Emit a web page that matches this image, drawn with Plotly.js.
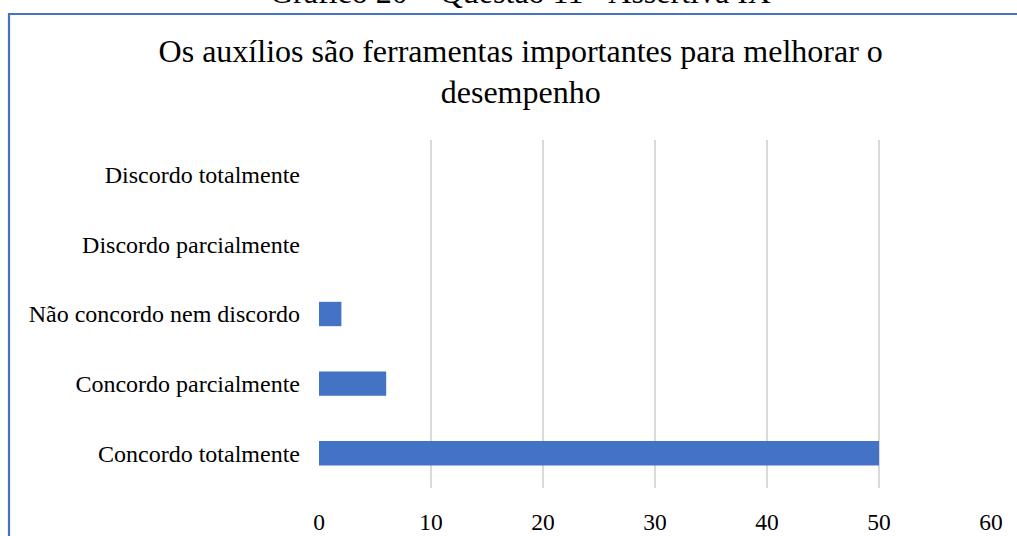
<!DOCTYPE html>
<html>
<head>
<meta charset="utf-8">
<script src="https://cdn.plot.ly/plotly-3.0.1.min.js"></script>
<style>html,body{margin:0;padding:0;background:#fff;}#chart{width:1017px;height:536px;}</style>
</head>
<body>
<div id="chart"></div>
<script>
const categories = ["Concordo totalmente", "Concordo parcialmente", "Não concordo nem discordo", "Discordo parcialmente", "Discordo totalmente"];
const values = [50, 6, 2, 0, 0];
const xTicks = [0, 10, 20, 30, 40, 50, 60];
const chartTitle = "Os auxílios são ferramentas importantes para melhorar o<br>desempenho";
const figureCaption = "Gráfico 20 – Questão 11 - Assertiva IX";

const FONT = '"Liberation Serif", "Times New Roman", serif';
const data = [{
  type: 'bar',
  orientation: 'h',
  y: categories,
  x: values,
  marker: {color: '#4472C4'},
  hoverinfo: 'x+y'
}];
const layout = {
  width: 1017, height: 536,
  margin: {l: 319, r: 26, t: 140, b: 48, pad: 0},
  paper_bgcolor: '#ffffff', plot_bgcolor: '#ffffff',
  font: {family: FONT, color: '#000000', size: 24},
  bargap: 0.65,
  showlegend: false,
  title: {
    text: chartTitle,
    font: {family: FONT, size: 32, color: '#000000'},
    x: 0.512, xanchor: 'center', xref: 'container',
    y: 0.885, yanchor: 'top', yref: 'container'
  },
  xaxis: {
    range: [0, 60], tickvals: xTicks, ticktext: xTicks.map(String),
    showgrid: true, gridcolor: '#D9D9D9', gridwidth: 1.5,
    zeroline: false, showline: false, ticks: '',
    tickfont: {family: FONT, size: 23.5, color: '#000000'},
    ticklabelstandoff: 17, fixedrange: true
  },
  yaxis: {
    type: 'category', categoryorder: 'array', categoryarray: categories,
    showgrid: false, zeroline: false, showline: false, ticks: '',
    tickfont: {family: FONT, size: 24, color: '#000000'},
    ticklabelstandoff: 18, fixedrange: true
  },
  shapes: [{
    type: 'rect', xref: 'paper', yref: 'paper', layer: 'above',
    x0: (9 - 319) / 672, x1: (1040 - 319) / 672,
    y0: (488 - 560) / 348, y1: (488 - 14) / 348,
    line: {color: '#4472C4', width: 2.2}, fillcolor: 'rgba(0,0,0,0)'
  }],
  annotations: [{
    text: figureCaption, showarrow: false,
    xref: 'paper', yref: 'paper',
    x: (520 - 319) / 672, xanchor: 'center',
    y: (488 + 8) / 348, yanchor: 'middle',
    font: {family: FONT, size: 32, color: '#000000'}
  }]
};
Plotly.newPlot('chart', data, layout, {displayModeBar: false, staticPlot: true});
</script>
</body>
</html>
